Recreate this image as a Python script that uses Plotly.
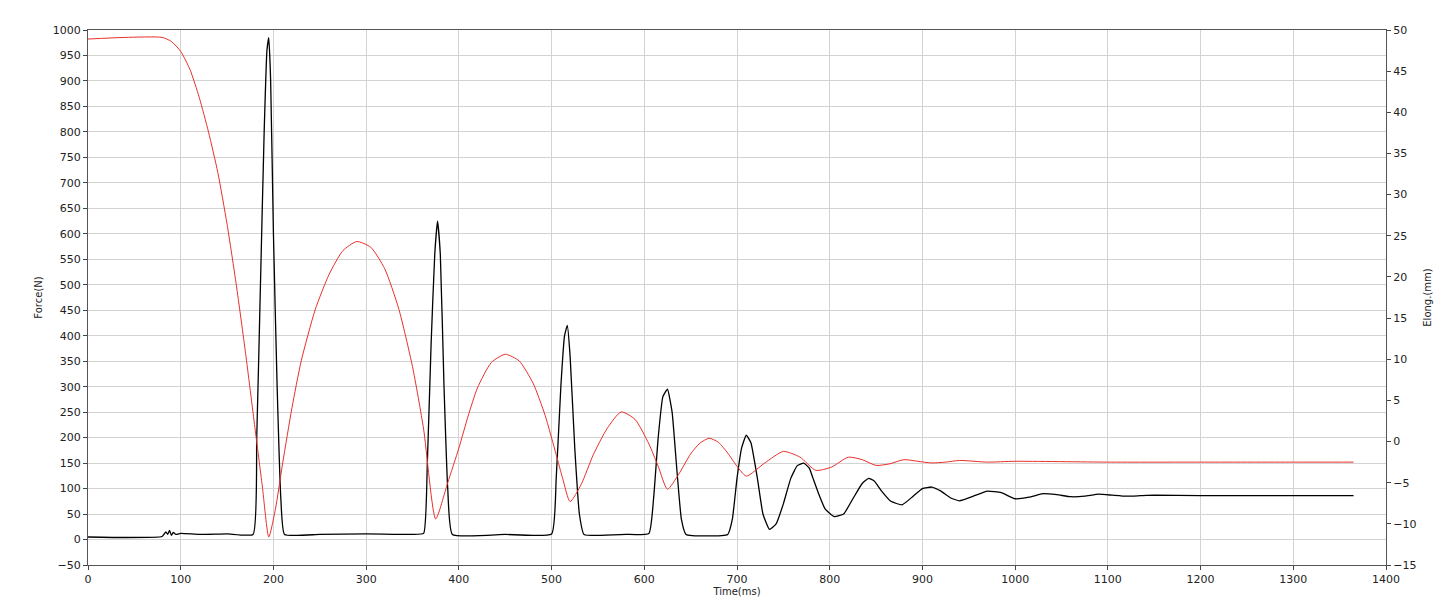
import plotly.graph_objects as go

force_t = [0, 40, 80, 84, 86, 88, 90, 92, 95, 100, 120, 150, 178, 182, 186, 190, 193, 195, 197, 200, 204, 208, 212, 250, 300, 350, 362, 366, 370, 374, 377, 380, 384, 388, 393, 450, 500, 505, 510, 514, 517, 520, 525, 530, 535, 580, 605, 610, 615, 620, 625, 630, 635, 640, 645, 690, 695, 700, 705, 710, 715, 722, 728, 735, 742, 750, 758, 765, 772, 778, 782, 788, 795, 805, 815, 825, 835, 842, 848, 856, 866, 878, 890, 900, 910, 920, 930, 940, 955, 970, 985, 1000, 1015, 1030, 1045, 1060, 1075, 1090, 1105, 1120, 1135, 1150, 1200, 1300, 1365]
force_v = [5, 4, 6, 15, 10, 18, 8, 14, 10, 12, 10, 11, 10, 200, 500, 800, 960, 985, 900, 600, 300, 80, 10, 10, 11, 10, 12, 150, 380, 560, 625, 560, 300, 100, 10, 10, 11, 120, 300, 400, 420, 360, 180, 50, 10, 10, 12, 80, 200, 280, 295, 250, 140, 40, 10, 10, 40, 120, 180, 205, 190, 120, 50, 20, 30, 70, 120, 145, 150, 140, 120, 90, 60, 45, 50, 80, 110, 120, 115, 95, 75, 68, 85, 100, 103, 95, 82, 76, 85, 95, 92, 80, 83, 90, 88, 84, 85, 89, 87, 85, 86, 87, 86, 86, 86]

elong_t = [0, 40, 80, 90, 100, 110, 120, 130, 140, 150, 160, 170, 180, 188, 195, 202, 210, 220, 230, 245, 260, 275, 290, 305, 320, 335, 350, 362, 375, 388, 400, 410, 420, 435, 450, 465, 480, 493, 505, 512, 520, 532, 545, 560, 575, 590, 605, 615, 625, 637, 650, 660, 670, 680, 690, 700, 710, 730, 750, 768, 785, 802, 820, 835, 850, 865, 880, 895, 910, 925, 940, 970, 1000, 1100, 1200, 1300, 1365]
elong_v = [48.9, 49.1, 49.1, 48.6, 47.4, 45.2, 41.8, 37.6, 32.7, 26.4, 19.0, 10.7, 1.7, -5.4, -11.6, -8.3, -2.6, 4.1, 9.8, 16.0, 20.3, 23.2, 24.3, 23.6, 21.0, 16.2, 9.1, 1.5, -9.4, -5.0, -0.8, 3.1, 6.5, 9.6, 10.6, 9.8, 7.1, 3.2, -1.6, -4.5, -7.3, -5.2, -1.6, 1.6, 3.6, 2.7, -0.3, -3.0, -5.8, -4.0, -1.5, -0.2, 0.4, -0.1, -1.4, -3.0, -4.2, -2.6, -1.2, -1.9, -3.5, -3.1, -1.9, -2.2, -2.9, -2.7, -2.2, -2.4, -2.6, -2.5, -2.3, -2.5, -2.4, -2.5, -2.5, -2.5, -2.5]

fig = go.Figure()
fig.add_trace(go.Scatter(x=elong_t, y=elong_v, yaxis="y2", mode="lines",
                         line=dict(color="#e8302a", width=1, shape="spline", smoothing=0.6), showlegend=False))
fig.add_trace(go.Scatter(x=force_t, y=force_v, mode="lines",
                         line=dict(color="#000000", width=1.3, shape="spline", smoothing=0.4), showlegend=False))

grid = "#d3d3d3"
tf = dict(family="DejaVu Sans, Tahoma, sans-serif", size=11, color="#222")
fig.update_layout(
    width=1445, height=608, paper_bgcolor="white", plot_bgcolor="white",
    margin=dict(l=80, r=67, t=22, b=51),
    font=tf,
    xaxis=dict(range=[0, 1400], dtick=100, showgrid=True, gridcolor=grid, zeroline=False,
               showline=True, linecolor="#555", ticks="outside", ticklen=4, mirror=True,
               automargin=False,
               title=dict(text="Time(ms)", font=dict(size=10), standoff=2)),
    yaxis=dict(range=[-50, 1000], dtick=50, showgrid=True, gridcolor=grid, zeroline=False,
               showline=True, linecolor="#555", ticks="outside", ticklen=4, automargin=False,
               title=dict(text="Force(N)", font=dict(size=10), standoff=8)),
    yaxis2=dict(range=[-15, 50], dtick=5, overlaying="y", side="right", showgrid=False,
                zeroline=False, showline=True, linecolor="#555", ticks="outside", ticklen=4,
                automargin=False,
                title=dict(text="Elong.(mm)", font=dict(size=10), standoff=8)),
)
fig.write_html("out.html")
